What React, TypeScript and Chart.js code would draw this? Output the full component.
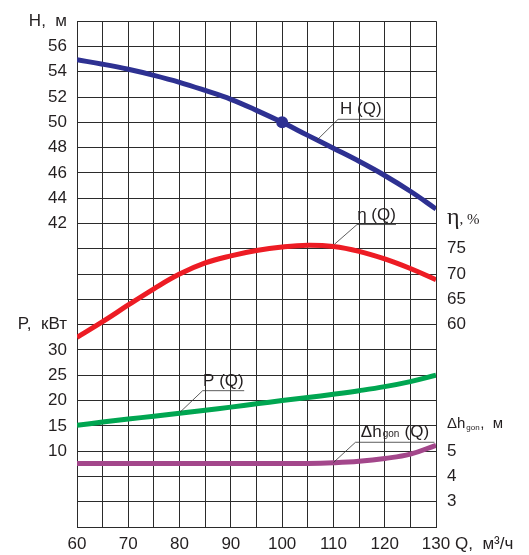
import React, { useEffect, useRef } from "react";
import { Chart, registerables } from "chart.js";
Chart.register(...registerables);

// ---- data ----
const Q = [60, 65, 70, 75, 80, 85, 90, 95, 100, 105, 110, 115, 120, 125, 130];
const H = [54.95, 54.6, 54.2, 53.72, 53.17, 52.52, 51.82, 50.95, 50.0, 48.97, 47.95, 46.92, 45.8, 44.55, 43.15];
const ETA = [57.5, 60.6, 63.9, 67.1, 70.0, 72.2, 73.6, 74.65, 75.35, 75.7, 75.45, 74.5, 73.0, 71.1, 68.9];
const P = [15.1, 15.75, 16.35, 16.9, 17.5, 18.1, 18.7, 19.35, 20.0, 20.6, 21.25, 21.95, 22.75, 23.75, 25.0];
const DH = [4.51, 4.51, 4.51, 4.51, 4.51, 4.51, 4.51, 4.51, 4.51, 4.51, 4.54, 4.6, 4.71, 4.88, 5.23];
const H_MARK_Q = 100;

const Q_TICKS = [60, 70, 80, 90, 100, 110, 120, 130];
const H_TICKS = [42, 44, 46, 48, 50, 52, 54, 56];
const ETA_TICKS = [60, 65, 70, 75];
const P_TICKS = [10, 15, 20, 25, 30];
const DH_TICKS = [3, 4, 5];

// axis ranges
const Q_RANGE = [60, 130];
const H_RANGE = [18, 58];
const ETA_RANGE = [20, 120];
const P_RANGE = [-5, 95];
const DH_RANGE = [2, 22];

const H_UNIT = "H,  м";
const P_UNIT = "P,  кВт";
const Q_UNIT = "Q,  м³/ч";

// ---- styles ----
const SANS = "'Liberation Sans', Arial, sans-serif";
const SERIF = "'Liberation Serif', 'Times New Roman', serif";
const TEXT = "#231f20";
const GRID = "#2b2b2b";
const BLUE = "#2e3192";
const RED = "#ed1c24";
const GREEN = "#00a651";
const PURPLE = "#a3478b";

type Part = { t: string; sub?: boolean };
const NOTES: { parts: Part[]; axis: string; curve: number[]; label: number[]; end: number }[] = [
  { parts: [{ t: "H (Q)" }], axis: "yH", curve: [106.8, 48.6], label: [110.9, 50.24], end: 119.8 },
  { parts: [{ t: "η (Q)" }], axis: "yEta", curve: [110.2, 75.9], label: [114.6, 79.8], end: 122.2 },
  { parts: [{ t: "P (Q)" }], axis: "yP", curve: [80.1, 17.7], label: [84.5, 21.95], end: 92.6 },
  { parts: [{ t: "Δh" }, { t: "gon", sub: true }, { t: " (Q)" }], axis: "yDh", curve: [110.0, 4.55], label: [114.3, 5.35], end: 129.7 },
];

const map = (v: number, from: number[], to: number[]) =>
  to[0] + ((v - from[0]) / (from[1] - from[0])) * (to[1] - to[0]);
const near = (arr: number[], v: number) => arr.find((a) => Math.abs(a - v) < 1e-6);

function drawParts(ctx: CanvasRenderingContext2D, parts: Part[], cx: number, baseline: number, size: number, subSize: number, align: "center" | "left", subDrop = 0) {
  const widths = parts.map((p) => {
    ctx.font = `${p.sub ? subSize : size}px ${SANS}`;
    return ctx.measureText(p.t).width + (p.sub ? 1.5 : 0);
  });
  const total = widths.reduce((a, b) => a + b, 0);
  let x = align === "center" ? cx - total / 2 : cx;
  ctx.textAlign = "left";
  ctx.textBaseline = "alphabetic";
  parts.forEach((p, i) => {
    ctx.font = `${p.sub ? subSize : size}px ${SANS}`;
    ctx.fillText(p.t, x + (p.sub ? 1 : 0), baseline + (p.sub ? subDrop : 0));
    x += widths[i];
  });
}

const notesPlugin = {
  id: "notes",
  afterDatasetsDraw(chart: any) {
    const ctx: CanvasRenderingContext2D = chart.ctx;
    const xs = chart.scales.x;
    ctx.save();
    ctx.fillStyle = TEXT;
    ctx.strokeStyle = "#333";
    ctx.lineWidth = 0.8;
    NOTES.forEach((n) => {
      const ys = chart.scales[n.axis];
      const x0 = xs.getPixelForValue(n.curve[0]);
      const y0 = ys.getPixelForValue(n.curve[1]);
      const x1 = xs.getPixelForValue(n.label[0]);
      const y1 = ys.getPixelForValue(n.label[1]);
      const x2 = xs.getPixelForValue(n.end);
      ctx.beginPath();
      ctx.moveTo(x0, y0);
      ctx.lineTo(x1, y1);
      ctx.lineTo(x2, y1);
      ctx.stroke();
      drawParts(ctx, n.parts, (x1 + x2) / 2, y1 - 5, 17, 10, "center");
    });
    ctx.restore();
  },
  afterDraw(chart: any) {
    const ctx: CanvasRenderingContext2D = chart.ctx;
    const area = chart.chartArea;
    const yEta = chart.scales.yEta;
    const yDh = chart.scales.yDh;
    ctx.save();
    ctx.fillStyle = TEXT;
    // η, %
    const xr = area.right + 11;
    const yEtaTitle = yEta.getPixelForValue(Math.max(...ETA_TICKS) + 5);
    ctx.textAlign = "left";
    ctx.textBaseline = "alphabetic";
    ctx.font = `24px ${SERIF}`;
    ctx.fillText("η", xr, yEtaTitle);
    const w = ctx.measureText("η").width;
    ctx.font = `15px ${SERIF}`;
    ctx.fillText(", %", xr + w, yEtaTitle);
    // Δh_gon, м
    const yDhTitle = yDh.getPixelForValue(Math.max(...DH_TICKS) + 1);
    drawParts(ctx, [{ t: "Δh" }, { t: "gon", sub: true }, { t: ",  м" }], xr, yDhTitle + 2, 15, 8, "left", 2);
    // Q, м³/ч
    ctx.font = `17px ${SANS}`;
    ctx.textAlign = "left";
    ctx.textBaseline = "middle";
    ctx.fillText(Q_UNIT, area.right + 19, area.bottom + 17);
    ctx.restore();
  },
};

export default function App() {
  const ref = useRef<HTMLCanvasElement>(null);
  useEffect(() => {
    const canvas = ref.current!;
    const pts = (vals: number[]) => Q.map((q, i) => ({ x: q, y: vals[i] }));
    const line = (label: string, vals: number[], color: string, axis: string) => ({
      label,
      data: pts(vals),
      yAxisID: axis,
      xAxisID: "x",
      borderColor: color,
      backgroundColor: color,
      borderWidth: 5,
      pointRadius: 0,
      fill: false,
      tension: 0.4,
    });
    const hSet: any = line("H (Q)", H, BLUE, "yH");
    hSet.pointRadius = (c: any) => (Q[c.dataIndex] === H_MARK_Q ? 6 : 0);
    hSet.pointBorderWidth = 0;
    const tickFont = { family: SANS, size: 17 };
    const chart = new Chart(canvas, {
      type: "line",
      data: {
        datasets: [
          hSet,
          line("η (Q)", ETA, RED, "yEta"),
          line("P (Q)", P, GREEN, "yP"),
          line("Δh (Q)", DH, PURPLE, "yDh"),
        ],
      },
      options: {
        responsive: false,
        animation: false,
        layout: { padding: { top: 15, left: 0, right: 0, bottom: 0 } },
        plugins: { legend: { display: false }, tooltip: { enabled: false } },
        events: [],
        scales: {
          x: {
            type: "linear",
            min: Q_RANGE[0],
            max: Q_RANGE[1],
            ticks: {
              stepSize: 5,
              autoSkip: false,
              maxRotation: 0,
              padding: 7,
              color: TEXT,
              font: tickFont,
              callback: (v: any) => (near(Q_TICKS, Number(v)) !== undefined ? String(v) : ""),
            },
            grid: { color: GRID, lineWidth: 1, drawTicks: false },
            border: { color: GRID, width: 1 },
            afterFit: (s: any) => {
              s.height = 28;
            },
          },
          yH: {
            type: "linear",
            position: "left",
            min: H_RANGE[0],
            max: H_RANGE[1],
            ticks: {
              stepSize: 2,
              autoSkip: false,
              padding: 10,
              color: TEXT,
              font: tickFont,
              callback: (v: any) => {
                const n = Number(v);
                if (Math.abs(n - H_RANGE[1]) < 1e-6) return H_UNIT;
                if (near(H_TICKS, n) !== undefined) return String(n);
                const p = Math.round(map(n, H_RANGE, P_RANGE));
                if (near(P_TICKS, p) !== undefined) return String(p);
                if (p === Math.max(...P_TICKS) + 5) return P_UNIT;
                return "";
              },
            },
            grid: { color: GRID, lineWidth: 1, drawTicks: false },
            border: { color: GRID, width: 1 },
            afterFit: (s: any) => {
              s.width = 77;
            },
          },
          yEta: {
            type: "linear",
            position: "right",
            min: ETA_RANGE[0],
            max: ETA_RANGE[1],
            ticks: {
              stepSize: 5,
              autoSkip: false,
              padding: 11,
              color: TEXT,
              font: tickFont,
              callback: (v: any) => {
                const n = Number(v);
                if (near(ETA_TICKS, n) !== undefined) return String(n);
                const d = Math.round(map(n, ETA_RANGE, DH_RANGE));
                if (near(DH_TICKS, d) !== undefined) return String(d);
                return "";
              },
            },
            grid: { display: false, drawTicks: false },
            border: { display: false },
            afterFit: (s: any) => {
              s.width = 93;
            },
          },
          yP: { type: "linear", display: false, min: P_RANGE[0], max: P_RANGE[1] },
          yDh: { type: "linear", display: false, min: DH_RANGE[0], max: DH_RANGE[1] },
        },
      } as any,
      plugins: [notesPlugin],
    });
    return () => chart.destroy();
  }, []);
  return (
    <div style={{ position: "fixed", left: 0, top: 0, width: 529, height: 555, background: "#fff" }}>
      <canvas ref={ref} width={529} height={555} style={{ display: "block", width: 529, height: 555 }} />
    </div>
  );
}
